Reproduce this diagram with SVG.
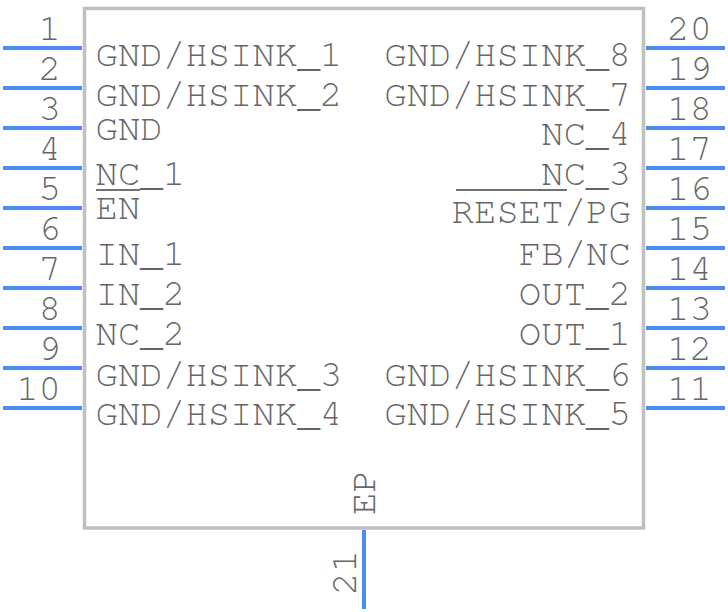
<svg xmlns="http://www.w3.org/2000/svg" width="728" height="612" viewBox="0 0 728 612">
<style>
text{font-family:"TeX Gyre Cursor","FreeMono","Liberation Mono",monospace;font-size:37.400px;fill:#666}
.e{text-anchor:end}
.p{stroke:#4a8cf0;stroke-width:4;fill:none}
.o{stroke:#707070;stroke-width:2;fill:none}
</style>
<rect width="728" height="612" fill="#fff"/>
<g id="body"><rect x="84.500" y="8.500" width="559" height="519.500" fill="none" stroke="#c0c0c0" stroke-width="3.500"/></g>
<g id="connectors">
<path class="p" d="M3 48H82M3 88H82M3 128H82M3 168H82M3 208H82M3 248H82M3 288H82M3 328H82M3 368H82M3 408H82"/>
<path class="p" d="M646 48H725M646 88H725M646 128H725M646 168H725M646 208H725M646 248H725M646 288H725M646 328H725M646 368H725M646 408H725"/>
<path class="p" d="M364 530V609"/>
</g>
<g id="pin1"><text class="e" x="61" y="39.500">1</text><text x="95.500" y="65.500">GND/HSINK_1</text></g>
<g id="pin2"><text class="e" x="61" y="79.500">2</text><text x="95.500" y="105.500">GND/HSINK_2</text></g>
<g id="pin3"><text class="e" x="61" y="119.500">3</text><text x="95.500" y="140">GND</text></g>
<g id="pin4"><text class="e" x="61" y="159.500">4</text><text x="95.500" y="185">NC_1</text></g>
<g id="pin5"><text class="e" x="61" y="199.500">5</text><text x="95.500" y="218.500">EN</text><path class="o" d="M96 190H140"/></g>
<g id="pin6"><text class="e" x="61" y="239.500">6</text><text x="95.500" y="265">IN_1</text></g>
<g id="pin7"><text class="e" x="61" y="279.500">7</text><text x="95.500" y="305">IN_2</text></g>
<g id="pin8"><text class="e" x="61" y="319.500">8</text><text x="95.500" y="345">NC_2</text></g>
<g id="pin9"><text class="e" x="61" y="359.500">9</text><text x="95.500" y="385.500">GND/HSINK_3</text></g>
<g id="pin10"><text class="e" x="61" y="399.500">10</text><text x="95.500" y="425">GND/HSINK_4</text></g>
<g id="pin11"><text x="667" y="399.500">11</text><text class="e" x="631" y="425">GND/HSINK_5</text></g>
<g id="pin12"><text x="667" y="359.500">12</text><text class="e" x="631" y="385.500">GND/HSINK_6</text></g>
<g id="pin13"><text x="667" y="319.500">13</text><text class="e" x="631" y="345">OUT_1</text></g>
<g id="pin14"><text x="667" y="279.500">14</text><text class="e" x="631" y="305">OUT_2</text></g>
<g id="pin15"><text x="667" y="239.500">15</text><text class="e" x="631" y="265">FB/NC</text></g>
<g id="pin16"><text x="667" y="199.500">16</text><text class="e" x="631" y="223">RESET/PG</text><path class="o" d="M456 190H567"/></g>
<g id="pin17"><text x="667" y="159.500">17</text><text class="e" x="631" y="185">NC_3</text></g>
<g id="pin18"><text x="667" y="119.500">18</text><text class="e" x="631" y="145">NC_4</text></g>
<g id="pin19"><text x="667" y="79.500">19</text><text class="e" x="631" y="105.500">GND/HSINK_7</text></g>
<g id="pin20"><text x="667" y="39.500">20</text><text class="e" x="631" y="65.500">GND/HSINK_8</text></g>
<g id="pin21"><text transform="translate(375 515) rotate(-90)">EP</text><text transform="translate(356 595) rotate(-90)">21</text></g>
</svg>
